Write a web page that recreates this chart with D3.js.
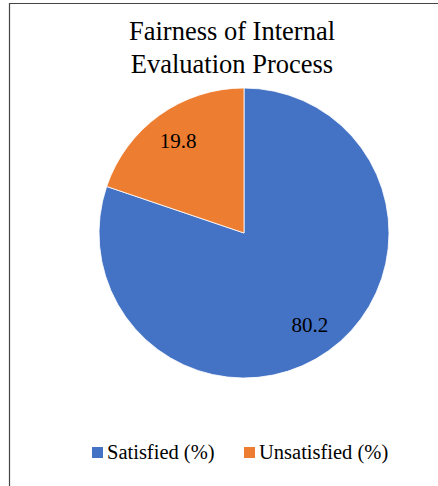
<!DOCTYPE html>
<html><head><meta charset="utf-8">
<script src="https://cdn.jsdelivr.net/npm/d3@7"></script>
<style>body{margin:0;background:#fff}svg{display:block}
svg text{font-family:"Liberation Serif","Times New Roman",Times,"DejaVu Serif",serif}</style>
</head><body>
<svg id="c" width="438" height="486"></svg>
<script>
const categories = ["Satisfied (%)", "Unsatisfied (%)"];
const values = [80.2, 19.8];
const labels = ["80.2", "19.8"];
const colors = ["#4472C4", "#ED7D31"];
const titleLines = ["Fairness of Internal", "Evaluation Process"];

const svg = d3.select("#c");

// frame
svg.append("path").attr("d", "M9.5,486 L9.5,3.5 L438,3.5")
  .attr("fill", "none").attr("stroke", "#444").attr("stroke-width", 1.2);

// title
svg.append("text").attr("x", 232).attr("y", 40).attr("text-anchor", "middle")
  .attr("font-size", 26.5).attr("fill", "#000")
  .selectAll("tspan").data(titleLines).join("tspan")
  .attr("x", 232).attr("dy", (d, i) => i ? 33 : 0).text(d => d);

// pie
const cx = 244, cy = 233, R = 145;
const pie = d3.pie().sort(null).value(d => d)(values);
const arc = d3.arc().innerRadius(0).outerRadius(R);
const labelArc = d3.arc().innerRadius(R * 0.78).outerRadius(R * 0.78);
const g = svg.append("g").attr("transform", `translate(${cx},${cy})`);
g.selectAll("path").data(pie).join("path")
  .attr("d", arc).attr("fill", (d, i) => colors[i])
  .attr("stroke", "#fff").attr("stroke-width", 0.8);
g.selectAll("text").data(pie).join("text")
  .attr("transform", d => `translate(${labelArc.centroid(d)})`)
  .attr("text-anchor", "middle").attr("dy", "0.35em")
  .attr("font-size", 21).attr("fill", "#000")
  .text((d, i) => labels[i]);

// legend
const legX = [92, 244];
const lg = svg.append("g");
categories.forEach((c, i) => {
  lg.append("rect").attr("x", legX[i]).attr("y", 447).attr("width", 11).attr("height", 11).attr("fill", colors[i]);
  lg.append("text").attr("x", legX[i] + 15).attr("y", 459)
    .attr("font-size", 20.5).attr("fill", "#000").text(c);
});
</script>
</body></html>
